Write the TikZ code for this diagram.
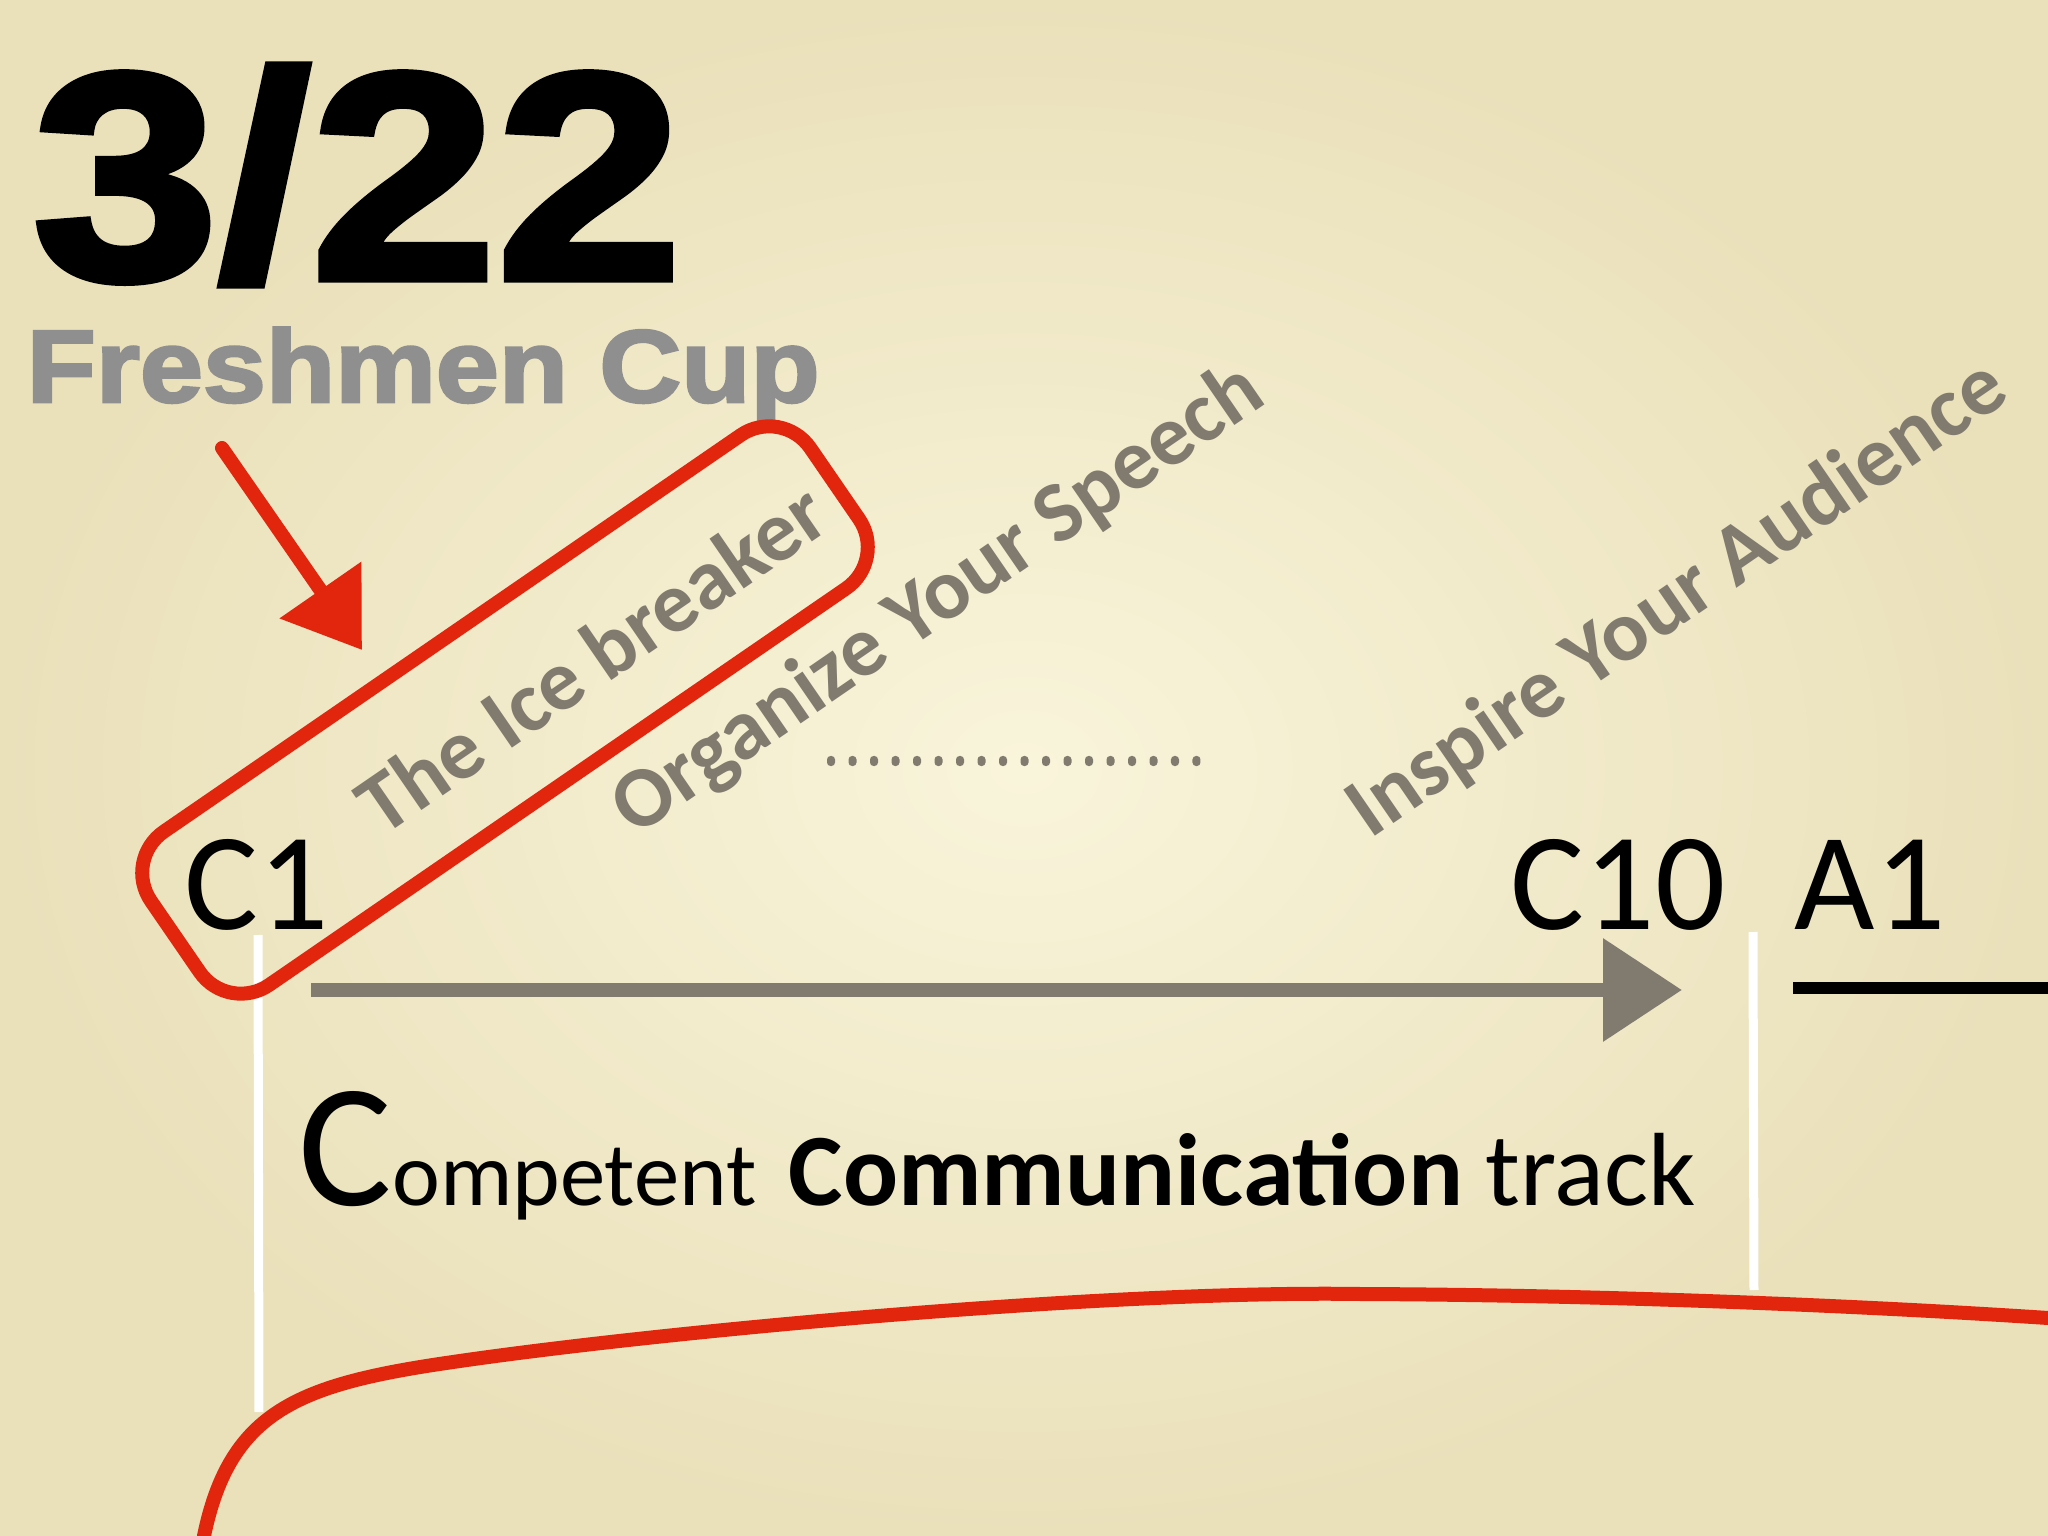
\documentclass[tikz,border=0pt]{standalone}
\usepackage{graphicx}
\usepackage{fontspec}
\setmainfont{Carlito}
\newfontfamily\heavyfont{Liberation Sans}[FakeBold=2.5]
\usetikzlibrary{arrows.meta}
\definecolor{paperlight}{RGB}{249,245,219}
\definecolor{paperdark}{RGB}{234,224,186}
\definecolor{penred}{RGB}{226,38,14}
\definecolor{chalkgray}{RGB}{128,123,110}
\definecolor{cupgray}{RGB}{143,143,143}

\begin{document}
\begin{tikzpicture}[
    slanted/.style={rotate=34.5, text=chalkgray, font=\fontsize{24.5}{25}\selectfont\bfseries},
    level/.style={anchor=base west, inner sep=0, font=\fontsize{39.5}{40}\selectfont},
    chalk/.style={white, line width=0.09cm},
    redpen/.style={penred, line width=0.14cm, line cap=round, line join=round}
  ]
  \useasboundingbox (0,0) rectangle (20.48,-15.36);
  \shade[inner color=paperlight, outer color=paperdark] (0,0) rectangle (20.48,-15.36);

  \node[anchor=base west, inner sep=0] (date) at (0.32,-2.79)
    {\heavyfont\bfseries\fontsize{84}{84}\selectfont\scalebox{1.13}[1]{3/22}};
  \node[anchor=base west, inner sep=0, text=cupgray] (cup) at (0.26,-4.02)
    {\heavyfont\bfseries\fontsize{29.3}{30}\selectfont\scalebox{1.1}[1]{Freshmen Cup}};

  \node[slanted] (icebreaker) at (5.91,-6.58) {The Ice breaker};
  \node[slanted] (organize) at (9.39,-6.01) {Organize Your Speech};
  \node[slanted] (inspire) at (16.78,-6.00) {Inspire Your Audience};

  \foreach \i in {0,...,17}
    \fill[chalkgray, rounded corners=0.035cm] (8.27+\i*0.215,-7.56) rectangle ++(0.08,-0.1);

  \node[level] (c1) at (1.84,-9.30) {C1};
  \node[level] (c10) at (15.10,-9.30) {C10};
  \node[level] (a1) at (17.94,-9.30) {A1};

  \coordinate (trackstart) at (3.11,-9.90);
  \coordinate (trackend) at (16.82,-9.90);
  \coordinate (nextstart) at (17.93,-9.88);
  \coordinate (nextend) at (20.48,-9.88);
  \draw[chalkgray, line width=0.14cm, -{Triangle[length=0.79cm, width=1.0cm]}] (trackstart) -- (trackend);
  \draw[black, line width=0.12cm] (nextstart) -- (nextend);

  \coordinate (lefttop) at (2.58,-9.35);
  \coordinate (leftbottom) at (2.59,-14.12);
  \coordinate (righttop) at (17.53,-9.32);
  \coordinate (rightbottom) at (17.54,-12.90);
  \draw[chalk]
    (lefttop) -- (leftbottom)
    (righttop) -- (rightbottom)
  ;

  \node[anchor=base west, inner sep=0] (track) at (2.98,-12.05)
    {\fontsize{50}{50}\selectfont C{\fontsize{25.8}{30}\selectfont ompetent}%
     \fontsize{28}{30}\selectfont\ \hspace{0.1cm}{\fontsize{29.2}{30}\selectfont\bfseries Communication}
     {\fontsize{29.6}{30}\selectfont track}};

  \node[draw=penred, line width=0.14cm, rounded corners=0.5cm, rotate=34.5,
    minimum width=8.0cm, minimum height=1.86cm] (icebox) at (5.05,-7.10) {};
  \coordinate (penstart) at (2.22,-4.48);
  \coordinate (pentip) at (3.62,-6.50);
  \draw[redpen, -{Triangle[length=0.73cm, width=0.96cm]}] (penstart) -- (pentip);

  \draw[redpen]
    (2.04,-15.36) .. controls (2.3,-14.1) and (3.0,-13.84) .. (4.53,-13.62)
    .. controls (6.5,-13.33) and (11,-12.9) .. (13.6,-12.94)
    .. controls (16,-12.95) and (18.5,-13.05) .. (20.48,-13.18)
  ;
\end{tikzpicture}
\end{document}
